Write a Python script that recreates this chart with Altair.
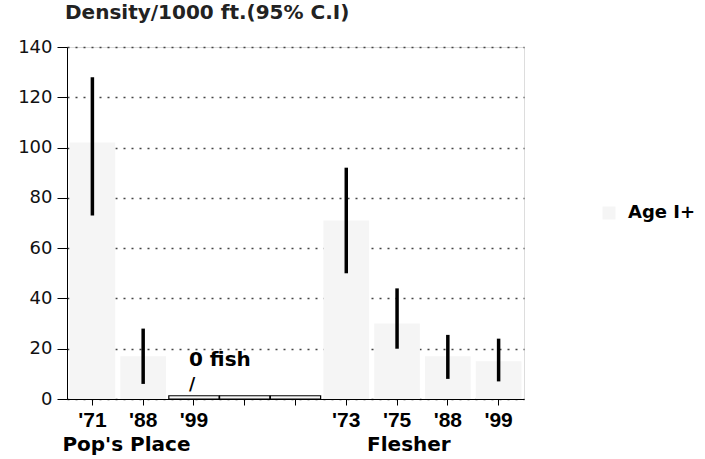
import json
import altair as alt
import pandas as pd

# ---- data ----
keys = ["P71", "P88", "P99", "G1", "G2", "F73", "F75", "F88", "F99"]
tick_labels = ["'71", "'88", "'99", "", "", "'73", "'75", "'88", "'99"]

bar_keys = ["P71", "P88", "F73", "F75", "F88", "F99"]
bar_means = [102, 17, 71, 30, 17, 15]
ci_low = [73, 6, 50, 20, 8, 7]
ci_high = [128, 28, 92, 44, 25.5, 24]

zero_keys = ["P99", "G1", "G2"]
zero_values = [1.3, 1.3, 1.3]

group_names = ["Pop's Place", "Flesher"]
group_anchor = ["P71", "F75"]

note_text = ["0 fish", "/"]
note_key = ["P99", "P99"]
note_y = [15.5, 5.5]
note_size = [20, 17]

series_name = "Age I+"

FONT = "Liberation Sans"
WIDE = "DejaVu Sans"

bars = pd.DataFrame({"key": bar_keys, "mean": bar_means, "lo": ci_low,
                     "hi": ci_high, "series": series_name})
zeros = pd.DataFrame({"key": zero_keys, "v": zero_values})
groups = pd.DataFrame({"key": group_anchor, "name": group_names})
notes = pd.DataFrame({"key": note_key, "t": note_text, "y": note_y, "s": note_size})

label_expr = json.dumps(tick_labels) + "[indexof(" + json.dumps(keys) + ", datum.value)]"

xscale = alt.Scale(domain=keys, paddingInner=0.1, paddingOuter=0.05)
yscale = alt.Scale(domain=[0, 140], nice=False)

x_enc = alt.X("key:N", scale=xscale, sort=keys, title=None,
              axis=alt.Axis(labelExpr=label_expr, labelAngle=0, labelFont=FONT,
                            labelFontSize=21, labelFontWeight="bold",
                            labelColor="black", tickColor="black", tickSize=6,
                            labelPadding=4, domainColor="black", grid=False))

y_axis = alt.Axis(values=[0, 20, 40, 60, 80, 100, 120, 140], labelFont=WIDE,
                  labelFontSize=18, labelColor="#111", tickColor="black",
                  tickSize=10, labelPadding=5, domainColor="black",
                  grid=True, gridDash=[2, 6], gridColor="#444", gridWidth=1.3)

base = alt.Chart(bars)

bar_layer = base.mark_bar(stroke=None).encode(
    x=x_enc,
    y=alt.Y("mean:Q", scale=yscale, axis=y_axis, title=None),
    color=alt.Color("series:N", scale=alt.Scale(range=["#f5f5f5"]),
                    legend=alt.Legend(title=None, orient="none", legendX=533,
                                      legendY=157, symbolType="square",
                                      symbolSize=170, labelFont=WIDE,
                                      labelFontSize=18, labelFontWeight="bold",
                                      labelColor="black", labelOffset=10)),
)

err_layer = base.mark_rule(color="black", strokeWidth=3.5).encode(
    x=alt.X("key:N", scale=xscale, sort=keys),
    y=alt.Y("lo:Q", scale=yscale),
    y2="hi:Q",
)

zero_layer = alt.Chart(zeros).mark_bar(
    fill="#f6f6f6", stroke="black", strokeWidth=1.2,
    width=alt.RelativeBandSize(1.1)
).encode(
    x=alt.X("key:N", scale=xscale, sort=keys),
    y=alt.Y("v:Q", scale=yscale),
)

group_layer = alt.Chart(groups).mark_text(
    align="left", baseline="middle", dx=-30, font=WIDE, fontSize=20,
    fontWeight="bold", color="black"
).encode(
    x=alt.X("key:N", scale=xscale, sort=keys),
    y=alt.value(398),
    text="name:N",
)

note_layer = alt.Chart(notes).mark_text(
    align="left", baseline="middle", dx=-5, font=WIDE,
    fontWeight="bold", color="black"
).encode(
    x=alt.X("key:N", scale=xscale, sort=keys),
    y=alt.Y("y:Q", scale=yscale),
    text="t:N",
    size=alt.Size("s:Q", scale=None, legend=None),
)

chart = alt.layer(bar_layer, zero_layer, err_layer, group_layer, note_layer).properties(
    width=457,
    height=352,
    autosize="none",
    padding={"left": 67, "top": 47, "right": 181, "bottom": 60},
    title=alt.TitleParams("Density/1000 ft.(95% C.I)", anchor="start",
                          frame="group", font=WIDE, fontSize=20,
                          fontWeight="bold", color="#222", offset=15, dx=-2),
).configure_view(stroke="black", strokeWidth=1.5).configure(background="white")

chart.save("out.html", embed_options={"renderer": "svg", "actions": False})
